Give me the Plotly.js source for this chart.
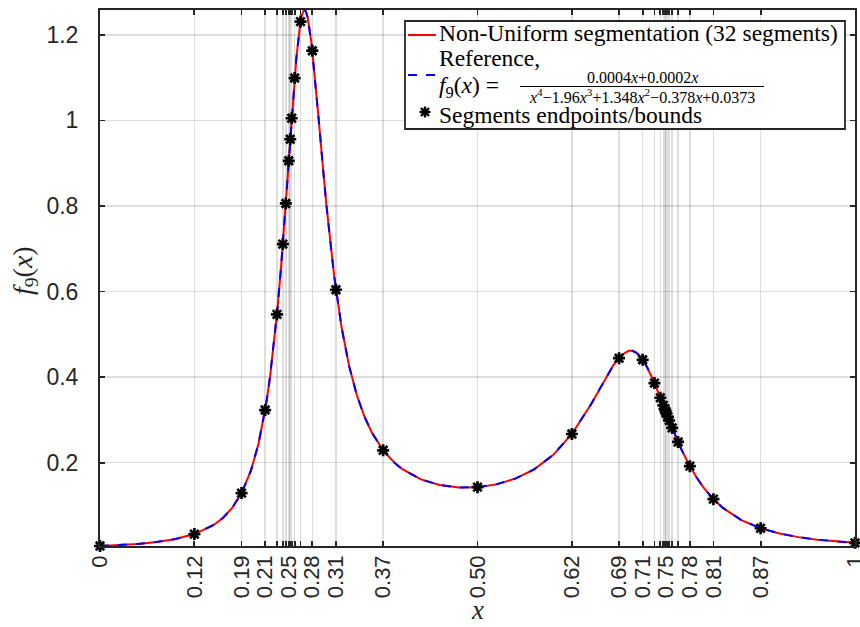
<!DOCTYPE html>
<html>
<head>
<meta charset="utf-8">
<script src="https://cdn.plot.ly/plotly-3.0.1.min.js"></script>
<style>html,body{margin:0;padding:0;background:#fff;}#chart{width:860px;height:627px;}</style>
</head>
<body>
<div id="chart"></div>
<script>
const xCurve = [0, 0.025, 0.05, 0.075, 0.1, 0.125, 0.15, 0.1625, 0.175, 0.1875, 0.2, 0.21, 0.22, 0.225, 0.23, 0.235, 0.24, 0.245, 0.25, 0.255, 0.26, 0.265, 0.2675, 0.27, 0.271, 0.2725, 0.275, 0.28, 0.285, 0.29, 0.295, 0.30, 0.31, 0.32, 0.33, 0.34, 0.35, 0.36, 0.375, 0.39, 0.40, 0.425, 0.45, 0.475, 0.5, 0.525, 0.55, 0.575, 0.6, 0.625, 0.65, 0.66, 0.67, 0.68, 0.69, 0.70, 0.705, 0.71, 0.715, 0.72, 0.725, 0.73, 0.735, 0.74, 0.745, 0.75, 0.755, 0.76, 0.765, 0.77, 0.78, 0.79, 0.80, 0.8125, 0.825, 0.85, 0.875, 0.9, 0.925, 0.95, 0.975, 1.0];
const yCurve = [0.00536, 0.00733, 0.01022, 0.01462, 0.02158, 0.03321, 0.05393, 0.0705, 0.0942, 0.1290, 0.1818, 0.2448, 0.3366, 0.3974, 0.4707, 0.5584, 0.6614, 0.7787, 0.9057, 1.0326, 1.1446, 1.2240, 1.2471, 1.2575, 1.2581, 1.2553, 1.2411, 1.1825, 1.0959, 0.9963, 0.8953, 0.8000, 0.6382, 0.5160, 0.4257, 0.3589, 0.3087, 0.2706, 0.2290, 0.2000, 0.1856, 0.1611, 0.1478, 0.1422, 0.1429, 0.1494, 0.1627, 0.1845, 0.2178, 0.2671, 0.3355, 0.3671, 0.3990, 0.4282, 0.4506, 0.4615, 0.4615, 0.4574, 0.4493, 0.4374, 0.4220, 0.4038, 0.3835, 0.3616, 0.3390, 0.3162, 0.2937, 0.2719, 0.2511, 0.2314, 0.1960, 0.1659, 0.1405, 0.1148, 0.0944, 0.0654, 0.0468, 0.0345, 0.0261, 0.0201, 0.0158, 0.0127];

// Segment endpoints / bounds
const xEnds = [0, 0.125, 0.1875, 0.21875, 0.234375, 0.2421875, 0.24609375, 0.25, 0.251953, 0.253906, 0.2578125, 0.265625, 0.28125, 0.3125, 0.375, 0.5, 0.625, 0.6875, 0.71875, 0.734375, 0.7421875, 0.74609375, 0.748047, 0.749023, 0.75, 0.751953, 0.753906, 0.7578125, 0.765625, 0.78125, 0.8125, 0.875, 1];
const yEnds = [0.00536, 0.03321, 0.1290, 0.3231, 0.5467, 0.711, 0.806, 0.9057, 0.956, 1.0051, 1.099, 1.231, 1.163, 0.6043, 0.2290, 0.1429, 0.2671, 0.4443, 0.4405, 0.3861, 0.3518, 0.3341, 0.3252, 0.3207, 0.3162, 0.3073, 0.2987, 0.2814, 0.2486, 0.1920, 0.1148, 0.0468, 0.0127];
// labelled ticks (subset of the endpoints)
const xLabelVals = [0, 0.125, 0.1875, 0.21875, 0.25, 0.28125, 0.3125, 0.375, 0.5, 0.625, 0.6875, 0.71875, 0.75, 0.78125, 0.8125, 0.875, 1];
const xLabelText = ['0', '0.12', '0.19', '0.21', '0.25', '0.28', '0.31', '0.37', '0.50', '0.62', '0.69', '0.71', '0.75', '0.78', '0.81', '0.87', '1'];
const yTickVals = [0.2, 0.4, 0.6, 0.8, 1, 1.2];
const yTickText = ['0.2', '0.4', '0.6', '0.8', '1', '1.2'];

const L = 100, R = 855, T = 10, B = 546;
const px = v => (v - L) / (R - L);
const py = v => (B - v) / (B - T);

const axisCol = '#262626';
const gridCol = 'rgba(0,0,0,0.13)';
const serif = 'Liberation Serif, Times New Roman, serif';

const traces = [
  {x: xCurve, y: yCurve, mode: 'lines', line: {color: '#ff0000', width: 2}, showlegend: false, hoverinfo: 'skip'},
  {x: xCurve, y: yCurve, mode: 'lines', line: {color: '#0000ff', width: 2, dash: 'dash'}, showlegend: false, hoverinfo: 'skip'},
  {x: xEnds, y: yEnds, xaxis: 'x2', yaxis: 'y', mode: 'markers', cliponaxis: false,
   marker: {symbol: 'asterisk-open', size: 10, color: '#000', line: {color: '#000', width: 2.7}}, showlegend: false}
];

// legend asterisk path (paper coords)
const cx = px(425), cy = py(112);
const hx = 5.5 / (R - L), hy = 5.5 / (B - T), dx = 4 / (R - L), dy = 4 / (B - T);
const astPath = `M${cx-hx},${cy} L${cx+hx},${cy} M${cx},${cy-hy} L${cx},${cy+hy} M${cx-dx},${cy-dy} L${cx+dx},${cy+dy} M${cx-dx},${cy+dy} L${cx+dx},${cy-dy}`;

const layout = {
  width: 860, height: 627,
  margin: {l: L, r: 860 - R, t: T, b: 627 - B, pad: 0},
  paper_bgcolor: '#fff', plot_bgcolor: '#fff',
  showlegend: false,
  font: {family: 'Liberation Sans, Arial, sans-serif', color: axisCol},
  xaxis: {
    range: [0, 1], tickmode: 'array', tickvals: xEnds, showticklabels: false,
    ticks: 'inside', ticklen: 5, tickwidth: 1.8, tickcolor: axisCol,
    showline: true, linecolor: axisCol, linewidth: 2, mirror: 'ticks',
    showgrid: true, gridcolor: gridCol, gridwidth: 1.5, zeroline: false, automargin: false
  },
  xaxis2: {
    overlaying: 'x', side: 'bottom', anchor: 'y', range: [0, 1], tickmode: 'array', tickvals: xLabelVals, ticktext: xLabelText,
    tickangle: -90, tickfont: {size: 22, color: axisCol}, ticks: '', showline: false, showgrid: false, zeroline: false,
    ticklabelstandoff: 4, ticklabeloverflow: 'allow', automargin: false
  },
  yaxis: {
    range: [0.00536, 1.2581], tickmode: 'array', tickvals: yTickVals, ticktext: yTickText,
    tickfont: {size: 23, color: axisCol},
    ticks: 'inside', ticklen: 5, tickwidth: 1.8, tickcolor: axisCol,
    showline: true, linecolor: axisCol, linewidth: 2, mirror: 'ticks',
    showgrid: true, gridcolor: gridCol, gridwidth: 1.5, zeroline: false,
    ticklabelstandoff: 15, automargin: false
  },
  shapes: [
    {type: 'rect', xref: 'paper', yref: 'paper', x0: px(405), x1: px(845), y0: py(129), y1: py(21),
     fillcolor: '#fff', line: {color: axisCol, width: 1.8}, layer: 'above'},
    {type: 'line', xref: 'paper', yref: 'paper', x0: px(408), x1: px(436), y0: py(35), y1: py(35),
     line: {color: '#ff0000', width: 2}, layer: 'above'},
    {type: 'line', xref: 'paper', yref: 'paper', x0: px(408), x1: px(436), y0: py(75), y1: py(75),
     line: {color: '#0000ff', width: 2, dash: '9px,9px'}, layer: 'above'},
    {type: 'line', xref: 'paper', yref: 'paper', x0: px(520), x1: px(764), y0: py(86.5), y1: py(86.5),
     line: {color: '#000', width: 1}, layer: 'above'},
    {type: 'path', xref: 'paper', yref: 'paper', path: astPath, line: {color: '#000', width: 2.4}, layer: 'above'}
  ],
  annotations: [
    {xref: 'paper', yref: 'paper', x: px(438), y: py(33), xanchor: 'left', yanchor: 'middle', showarrow: false, borderpad: 0,
     text: 'Non-Uniform segmentation (32 segments)', font: {family: serif, size: 23.5, color: '#000'}},
    {xref: 'paper', yref: 'paper', x: px(438), y: py(58), xanchor: 'left', yanchor: 'middle', showarrow: false, borderpad: 0,
     text: 'Reference,', font: {family: serif, size: 23.5, color: '#000'}},
    {xref: 'paper', yref: 'paper', x: px(438), y: py(87), xanchor: 'left', yanchor: 'middle', showarrow: false, borderpad: 0,
     text: '<i>f</i><sub>9</sub>(<i>x</i>) =', font: {family: serif, size: 23.5, color: '#000'}},
    {xref: 'paper', yref: 'paper', x: px(642), y: py(77.5), xanchor: 'center', yanchor: 'middle', showarrow: false, borderpad: 0,
     text: '0.0004<i>x</i>+0.0002<i>x</i>', font: {family: serif, size: 16, color: '#000'}},
    {xref: 'paper', yref: 'paper', x: px(642), y: py(96), xanchor: 'center', yanchor: 'middle', showarrow: false, borderpad: 0,
     text: '<i>x</i><sup>4</sup>\u22121.96<i>x</i><sup>3</sup>+1.348<i>x</i><sup>2</sup>\u22120.378<i>x</i>+0.0373', font: {family: serif, size: 16, color: '#000'}},
    {xref: 'paper', yref: 'paper', x: px(438), y: py(114.5), xanchor: 'left', yanchor: 'middle', showarrow: false, borderpad: 0,
     text: 'Segments endpoints/bounds', font: {family: serif, size: 23.5, color: '#000'}},
    {xref: 'paper', yref: 'paper', x: px(477), y: py(626), xanchor: 'center', yanchor: 'bottom', showarrow: false, borderpad: 0,
     text: '<i>x</i>', font: {family: serif, size: 27, color: axisCol}},
    {xref: 'paper', yref: 'paper', x: px(24), y: py(271), xanchor: 'center', yanchor: 'middle', showarrow: false, textangle: -90, borderpad: 0,
     text: '<i>f</i><sub>9</sub>(<i>x</i>)', font: {family: serif, size: 28, color: axisCol}}
  ]
};

Plotly.newPlot('chart', traces, layout, {displayModeBar: false, staticPlot: true});
</script>
</body>
</html>
